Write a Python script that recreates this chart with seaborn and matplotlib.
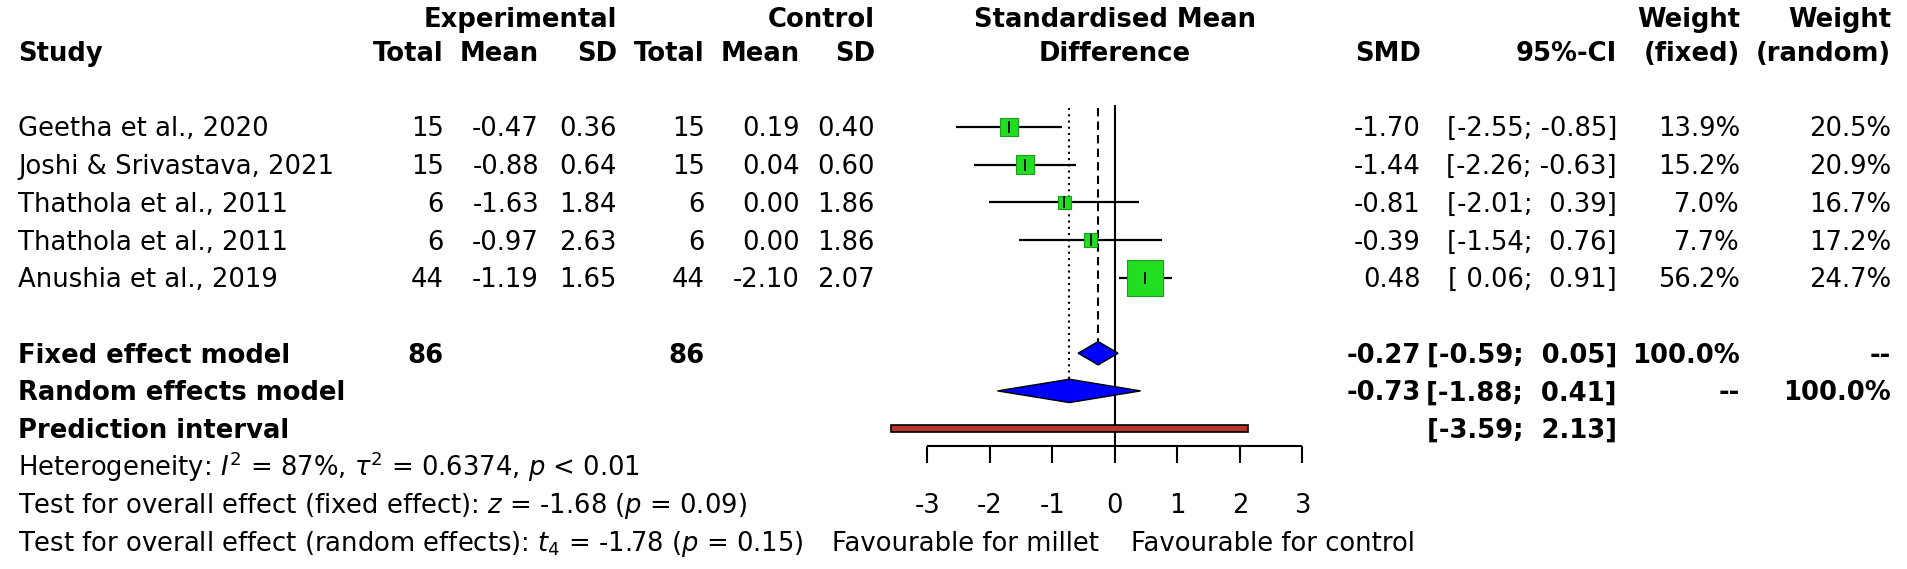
import numpy as np
import pandas as pd
import seaborn as sns
import matplotlib
matplotlib.use("Agg")
import matplotlib.pyplot as plt
from matplotlib.transforms import blended_transform_factory
from matplotlib.patches import Polygon, Rectangle

# ---------------- data ----------------
studies = ["Geetha et al., 2020", "Joshi & Srivastava, 2021", "Thathola et al., 2011",
           "Thathola et al., 2011", "Anushia et al., 2019"]
exp_n = [15, 15, 6, 6, 44]
exp_mean = [-0.47, -0.88, -1.63, -0.97, -1.19]
exp_sd = [0.36, 0.64, 1.84, 2.63, 1.65]
ctl_n = [15, 15, 6, 6, 44]
ctl_mean = [0.19, 0.04, 0.00, 0.00, -2.10]
ctl_sd = [0.40, 0.60, 1.86, 1.86, 2.07]
smd = [-1.70, -1.44, -0.81, -0.39, 0.48]
ci_lo = [-2.55, -2.26, -2.01, -1.54, 0.06]
ci_hi = [-0.85, -0.63, 0.39, 0.76, 0.91]
w_fixed = [13.9, 15.2, 7.0, 7.7, 56.2]
w_random = [20.5, 20.9, 16.7, 17.2, 24.7]
fixed_est, fixed_lo, fixed_hi = -0.27, -0.59, 0.05
random_est, random_lo, random_hi = -0.73, -1.88, 0.41
pred_lo, pred_hi = -3.59, 2.13
total_exp, total_ctl = 86, 86
x_ticks = [-3, -2, -1, 0, 1, 2, 3]
label_left = "Favourable for millet"
label_right = "Favourable for control"

df = pd.DataFrame({"study": studies, "smd": smd, "lo": ci_lo, "hi": ci_hi,
                   "wf": w_fixed, "row": np.arange(len(studies))})

# ---------------- layout ----------------
W, H = 1908, 569
ZERO_PX, UNIT_PX = 1115.0, 62.5
ROW0_PX, ROW_PX = 127.0, 37.7

sns.set_theme(style="white")
plt.rcParams["font.family"] = ["DejaVu Sans"]
plt.rcParams["mathtext.fontset"] = "dejavusans"
plt.rcParams["text.color"] = "black"
FS = 18.6

fig = plt.figure(figsize=(W / 100, H / 100), dpi=100)
ax = fig.add_axes([0, 0, 1, 1])
ax.set_xlim(-ZERO_PX / UNIT_PX, (W - ZERO_PX) / UNIT_PX)
ax.set_ylim((H - ROW0_PX) / ROW_PX, -ROW0_PX / ROW_PX)
ax.axis("off")

tr = blended_transform_factory(fig.transFigure, ax.transData)
BASE = 0.25


def txt(xpx, row, s, ha="right", bold=False, **kw):
    ax.text(xpx / W, row + BASE, s, transform=tr, ha=ha, va="baseline",
            fontsize=FS, color="black", fontweight="bold" if bold else "normal", **kw)


# ---------------- header ----------------
h1, h2 = -2.9, -2.0
txt(18, h2, "Study", ha="left", bold=True)
txt(617, h1, "Experimental", bold=True)
txt(875, h1, "Control", bold=True)
for xp, s in [(444, "Total"), (539, "Mean"), (617, "SD"), (705, "Total"),
              (800, "Mean"), (875, "SD"), (1421, "SMD"), (1617, "95%-CI"),
              (1740, "(fixed)"), (1891, "(random)")]:
    txt(xp, h2, s, bold=True)
txt(1740, h1, "Weight", bold=True)
txt(1891, h1, "Weight", bold=True)
txt(ZERO_PX, h1, "Standardised Mean", ha="center", bold=True)
txt(ZERO_PX, h2, "Difference", ha="center", bold=True)

# ---------------- study rows ----------------
for i in range(len(studies)):
    txt(18, i, studies[i], ha="left")
    txt(444, i, f"{exp_n[i]}")
    txt(539, i, f"{exp_mean[i]:.2f}")
    txt(617, i, f"{exp_sd[i]:.2f}")
    txt(705, i, f"{ctl_n[i]}")
    txt(800, i, f"{ctl_mean[i]:.2f}")
    txt(875, i, f"{ctl_sd[i]:.2f}")
    txt(1421, i, f"{smd[i]:.2f}")
    txt(1617, i, f"[{ci_lo[i]:5.2f}; {ci_hi[i]:5.2f}]")
    txt(1740, i, f"{w_fixed[i]:.1f}%")
    txt(1891, i, f"{w_random[i]:.1f}%")

r_fix, r_ran, r_pred = 6, 7, 8
txt(18, r_fix, "Fixed effect model", ha="left", bold=True)
txt(18, r_ran, "Random effects model", ha="left", bold=True)
txt(18, r_pred, "Prediction interval", ha="left", bold=True)
txt(444, r_fix, f"{total_exp}", bold=True)
txt(705, r_fix, f"{total_ctl}", bold=True)
txt(1421, r_fix, f"{fixed_est:.2f}", bold=True)
txt(1617, r_fix, f"[{fixed_lo:5.2f}; {fixed_hi:5.2f}]", bold=True)
txt(1740, r_fix, "100.0%", bold=True)
txt(1891, r_fix, "--", bold=True)
txt(1421, r_ran, f"{random_est:.2f}", bold=True)
txt(1617, r_ran, f"[{random_lo:5.2f}; {random_hi:5.2f}]", bold=True)
txt(1740, r_ran, "--", bold=True)
txt(1891, r_ran, "100.0%", bold=True)
txt(1617, r_pred, f"[{pred_lo:5.2f}; {pred_hi:5.2f}]", bold=True)

txt(18, 9, r"Heterogeneity: $I^2$ = 87%, $\tau^2$ = 0.6374, $p$ < 0.01", ha="left")
txt(18, 10, r"Test for overall effect (fixed effect): $z$ = -1.68 ($p$ = 0.09)", ha="left")
txt(18, 11, r"Test for overall effect (random effects): $t_4$ = -1.78 ($p$ = 0.15)", ha="left")

# ---------------- forest graphics ----------------
top = -0.58
axis_row = 8.46
ax.vlines(0, top, axis_row, color="black", lw=1.5, zorder=2)
ax.vlines(fixed_est, -0.5, r_fix - 0.2, color="black", lw=1.5, linestyles=(0, (4, 2.5)), zorder=2)
ax.vlines(random_est, -0.5, r_ran - 0.2, color="black", lw=1.5, linestyles=(0, (1, 2)), zorder=2)

ax.hlines(df["row"], df["lo"], df["hi"], color="black", lw=1.6, zorder=3)
sizes = {w: 11.96 * w for w in w_fixed}
sns.scatterplot(data=df, x="smd", y="row", size="wf", sizes=sizes, marker="s",
                color="#22DD22", edgecolor="#1A9E1A", linewidth=0.8,
                legend=False, ax=ax, zorder=4)
ax.scatter(df["smd"], df["row"], marker="|", s=70, color="black", linewidths=1.3, zorder=5)

dh = 0.31
ax.add_patch(Polygon([(fixed_lo, r_fix), (fixed_est, r_fix - dh), (fixed_hi, r_fix),
                      (fixed_est, r_fix + dh)], closed=True, facecolor="#0000FF",
                     edgecolor="black", lw=1.0, zorder=4))
ax.add_patch(Polygon([(random_lo, r_ran), (random_est, r_ran - dh), (random_hi, r_ran),
                      (random_est, r_ran + dh)], closed=True, facecolor="#0000FF",
                     edgecolor="black", lw=1.0, zorder=4))
ph = 0.1
ax.add_patch(Rectangle((pred_lo, r_pred - ph), pred_hi - pred_lo, 2 * ph,
                       facecolor="#B8352B", edgecolor="black", lw=1.2, zorder=4))

# x axis
ax.hlines(axis_row, x_ticks[0], x_ticks[-1], color="black", lw=1.5)
ax.vlines(x_ticks, axis_row, axis_row + 0.45, color="black", lw=1.5)
for t in x_ticks:
    ax.text(t, 10 + BASE, f"{t}", ha="center", va="baseline", fontsize=FS, color="black")
ax.text(-0.25, 11 + BASE, label_left, ha="right", va="baseline", fontsize=FS, color="black")
ax.text(0.25, 11 + BASE, label_right, ha="left", va="baseline", fontsize=FS, color="black")

fig.savefig("out.png", dpi=100, facecolor="white")
